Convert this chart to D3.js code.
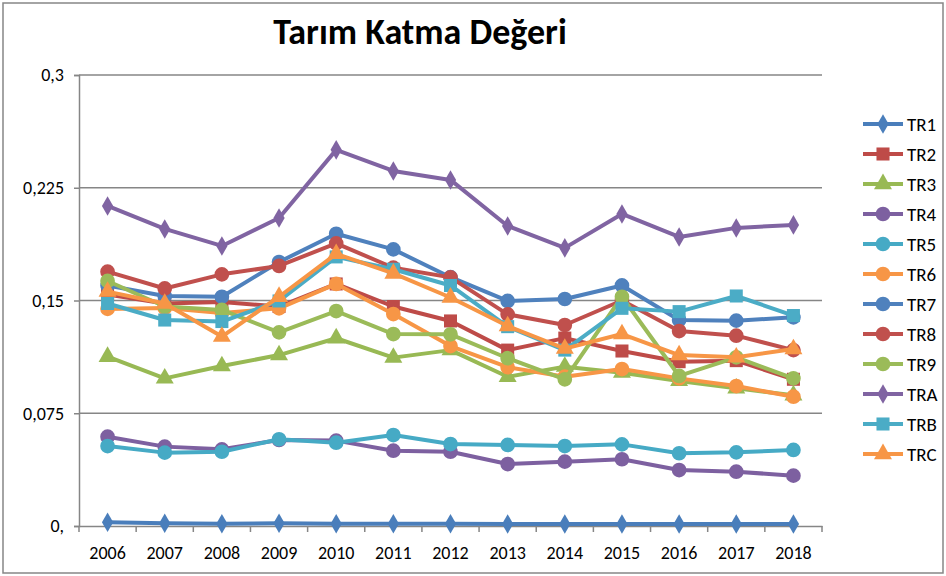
<!DOCTYPE html>
<html>
<head>
<meta charset="utf-8">
<script src="https://cdn.jsdelivr.net/npm/d3@7"></script>
<style>
  body { margin: 0; background: #fff; }
  svg text { font-family: Carlito, "Liberation Sans Narrow", "Open Sans", sans-serif; fill: #000; }
</style>
</head>
<body>
<div id="viz"></div>
<script>
const years = ['2006','2007','2008','2009','2010','2011','2012','2013','2014','2015','2016','2017','2018']
const yTicks = [0, 0.075, 0.15, 0.225, 0.3]
const yTickLabels = ['0,', '0,075', '0,15', '0,225', '0,3']

const TR1 = [0.0025, 0.0018, 0.0015, 0.0018, 0.0015, 0.0015, 0.0015, 0.0014, 0.0014, 0.0013, 0.0013, 0.0013, 0.0013]
const TR2 = [0.154, 0.148, 0.149, 0.146, 0.161, 0.146, 0.1364, 0.117, 0.125, 0.1164, 0.1093, 0.110, 0.0976]
const TR3 = [0.1126, 0.0982, 0.1064, 0.1137, 0.1249, 0.112, 0.117, 0.0993, 0.106, 0.102, 0.0965, 0.0916, 0.087]
const TR4 = [0.0594, 0.0528, 0.051, 0.0572, 0.0568, 0.0501, 0.0494, 0.0412, 0.0428, 0.0444, 0.0372, 0.0361, 0.0335]
const TR5 = [0.0532, 0.0488, 0.0494, 0.0577, 0.0554, 0.0605, 0.0545, 0.0539, 0.0532, 0.0543, 0.0484, 0.049, 0.0506]
const TR6 = [0.1444, 0.145, 0.1417, 0.1448, 0.161, 0.141, 0.1197, 0.1056, 0.0993, 0.1044, 0.0982, 0.0931, 0.086]
const TR7 = [0.160, 0.153, 0.1525, 0.1756, 0.1944, 0.184, 0.1655, 0.1497, 0.151, 0.160, 0.137, 0.1366, 0.1388]
const TR8 = [0.1692, 0.158, 0.1674, 0.173, 0.188, 0.1718, 0.1654, 0.1408, 0.1337, 0.150, 0.1297, 0.1266, 0.117]
const TR9 = [0.163, 0.146, 0.1437, 0.1288, 0.143, 0.1277, 0.1275, 0.1116, 0.0976, 0.1525, 0.0998, 0.1122, 0.0982]
const TRA = [0.2129, 0.1976, 0.1863, 0.2049, 0.2502, 0.2362, 0.2302, 0.1996, 0.185, 0.2076, 0.1923, 0.1983, 0.2003]
const TRB = [0.148, 0.137, 0.136, 0.1497, 0.179, 0.1708, 0.160, 0.1326, 0.117, 0.1448, 0.1426, 0.153, 0.140]
const TRC = [0.1559, 0.148, 0.126, 0.1525, 0.181, 0.168, 0.152, 0.133, 0.118, 0.1277, 0.1137, 0.1122, 0.1177]

const seriesNames = ['TR1','TR2','TR3','TR4','TR5','TR6','TR7','TR8','TR9','TRA','TRB','TRC']
const seriesValues = [TR1, TR2, TR3, TR4, TR5, TR6, TR7, TR8, TR9, TRA, TRB, TRC]
const seriesColors = ['#4A7EBB','#BE4B48','#98B954','#7D60A0','#46AAC5','#F79646',
                      '#4F81BD','#C0504D','#9BBB59','#8064A2','#4BACC6','#F79646']
const seriesMarkers = ['diamond','square','triangle','circle','circle','circle',
                       'circle','circle','circle','diamond','square','triangle']

const width = 946
const height = 576
const plot = { left: 79, top: 75, right: 822, bottom: 526 }

const svg = d3.select('#viz')
  .append('svg')
    .attr('width', width)
    .attr('height', height)

// chart frame
svg.append('rect')
  .attr('x', 3).attr('y', 3)
  .attr('width', width - 6).attr('height', height - 6)
  .attr('fill', '#fff')
  .attr('stroke', '#868686')
  .attr('stroke-width', 1.5)

svg.append('text')
  .attr('x', 420).attr('y', 44)
  .attr('text-anchor', 'middle')
  .style('font-size', '36px')
  .style('font-weight', 'bold')
  .text('Tarım Katma Değeri')

const x = d3.scaleBand()
  .domain(years)
  .range([plot.left, plot.right])

const y = d3.scaleLinear()
  .domain([0, 0.3])
  .range([plot.bottom, plot.top])

// gridlines
svg.append('g')
  .selectAll('line')
  .data(yTicks.slice(1))
  .join('line')
    .attr('x1', plot.left).attr('x2', plot.right)
    .attr('y1', d => y(d)).attr('y2', d => y(d))
    .attr('stroke', '#868686')
    .attr('stroke-width', 1.5)

// y axis
let yAxis = svg.append('g')
  .attr('transform', 'translate(' + plot.left + ',0)')
  .call(d3.axisLeft(y).tickValues(yTicks).tickSize(5).tickPadding(10)
    .tickFormat((d, i) => yTickLabels[i]))
yAxis.attr('font-size', null).attr('font-family', null)
yAxis.select('.domain').attr('stroke', '#868686').attr('stroke-width', 1.5)
yAxis.selectAll('.tick line').attr('stroke', '#868686').attr('stroke-width', 1.5)
yAxis.selectAll('text').style('font-size', '18px')

// x axis, ticks between categories
let xAxis = svg.append('g')
  .attr('transform', 'translate(0,' + plot.bottom + ')')
  .call(d3.axisBottom(x).tickSize(0).tickPadding(20))
xAxis.attr('font-size', null).attr('font-family', null)
xAxis.select('.domain').attr('stroke', '#868686').attr('stroke-width', 1.5)
xAxis.selectAll('text').style('font-size', '18px')
xAxis.selectAll('.sep')
  .data(years.concat(['end']))
  .join('line')
    .attr('class', 'sep')
    .attr('x1', (d, i) => plot.left + i * x.step())
    .attr('x2', (d, i) => plot.left + i * x.step())
    .attr('y1', 0).attr('y2', 6)
    .attr('stroke', '#868686')
    .attr('stroke-width', 1.5)

const symbolType = {
  diamond: d3.symbolDiamond,
  square: d3.symbolSquare,
  triangle: d3.symbolTriangle,
  circle: d3.symbolCircle
}
const symbolSize = { diamond: 110, square: 170, triangle: 140, circle: 170 }

function marker(kind) {
  return d3.symbol().type(symbolType[kind]).size(symbolSize[kind])()
}

const line = d3.line()
  .x((d, i) => x(years[i]) + x.bandwidth() / 2)
  .y(d => y(d))

seriesNames.forEach((name, s) => {
  let g = svg.append('g').attr('class', 'series')
  g.append('path')
    .datum(seriesValues[s])
    .attr('d', line)
    .attr('fill', 'none')
    .attr('stroke', seriesColors[s])
    .attr('stroke-width', 4)
    .attr('stroke-linejoin', 'round')
  g.selectAll('path.mark')
    .data(seriesValues[s])
    .join('path')
      .attr('class', 'mark')
      .attr('d', marker(seriesMarkers[s]))
      .attr('transform', (d, i) => 'translate(' + [x(years[i]) + x.bandwidth() / 2, y(d)] + ')')
      .attr('fill', seriesColors[s])
})

// legend
let legend = svg.append('g')
  .attr('transform', 'translate(863,124)')
  .selectAll('g')
  .data(seriesNames)
  .join('g')
    .attr('transform', (d, i) => 'translate(0,' + i * 30 + ')')

legend.append('line')
  .attr('x1', 0).attr('x2', 40)
  .attr('stroke', (d, i) => seriesColors[i])
  .attr('stroke-width', 4)
legend.append('path')
  .attr('d', (d, i) => marker(seriesMarkers[i]))
  .attr('transform', 'translate(20,0)')
  .attr('fill', (d, i) => seriesColors[i])
legend.append('text')
  .attr('x', 44).attr('dy', '0.35em')
  .style('font-size', '19px')
  .text(d => d)
</script>
</body>
</html>
